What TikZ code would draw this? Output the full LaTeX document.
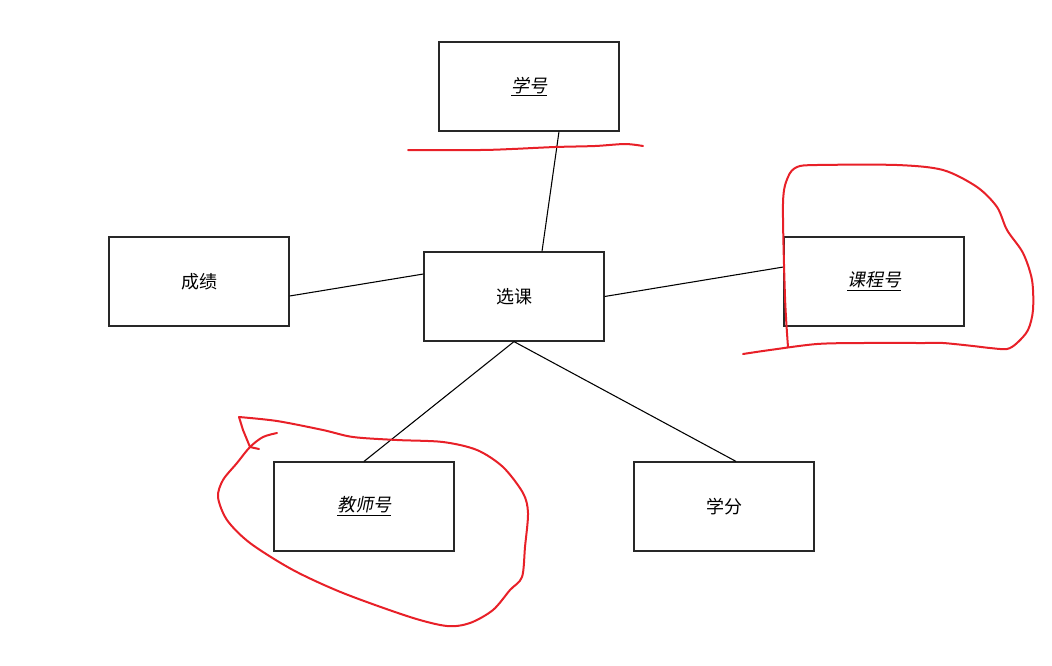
\documentclass[tikz,border=0pt]{standalone}
\usepackage{fontspec}
\setmainfont{Noto Sans CJK SC}
\newfontfamily\slantcjk[FakeSlant=0.2]{Noto Sans CJK SC}
\usetikzlibrary{calc}
\definecolor{penred}{RGB}{232,32,40}
\definecolor{boxline}{RGB}{40,40,40}
\begin{document}
\begin{tikzpicture}[x=0.75pt, y=-0.75pt, every node/.style={draw=boxline, line width=0.9pt, minimum width=135pt, minimum height=66.75pt, inner sep=0pt, font=\fontsize{13.5pt}{16pt}\selectfont}, link/.style={line width=0.8pt}, redpen/.style={draw=penred, line width=1.5pt, line cap=round, line join=round}]
\useasboundingbox (0,0) rectangle (1052,665);
\node (xh) at (529,86.5) {\underline{\slantcjk 学号}};
\node (cj) at (199,281.5) {成绩};
\node (xk) at (514,296.5) {选课};
\node (kch) at (874,281.5) {\underline{\slantcjk 课程号}};
\node (jsh) at (364,506.5) {\underline{\slantcjk 教师号}};
\node (xf) at (724,506.5) {学分};
\draw[link] ($(xh.south)+(30,0)$) -- ($(xk.north)+(28,0)$);
\draw[link] ($(cj.east)+(0,14.5)$) -- ($(xk.west)+(0,-22.5)$);
\draw[link] (xk.east) -- ($(kch.west)+(0,-14.5)$);
\draw[link] (xk.south) -- (jsh.north);
\draw[link] (xk.south) -- ($(xf.north)+(12,0)$);
% red pen marks
\draw[redpen] plot[smooth, tension=0.5] coordinates {(408,150) (480,150) (512,149) (555,147) (595,146) (625,144) (643,146)};
\draw[redpen] plot[smooth, tension=0.5] coordinates {(788,347) (785,297) (783,203) (788,177) (797,167) (817,165) (897,165) (943,170) (977,187) (997,207) (1007,230) (1023,253) (1032,280) (1033,310) (1028,330) (1017,343) (1007,349) (990,348) (973,346) (943,343) (923,343) (863,343) (817,344) (770,350) (743,354)};
\draw[redpen] plot[smooth, tension=0.5] coordinates {(277,433) (263,437) (250,447) (237,463) (223,480) (218,497) (227,520) (250,543) (293,570) (343,593) (410,617) (447,626) (470,623) (493,610) (510,590) (522,577) (525,547) (528,513) (523,493) (503,467) (477,450) (443,442) (397,440) (353,437) (323,430) (277,421) (239,417)};
\draw[redpen] (239,417) -- (243,430) -- (250,447) -- (259,449);
\end{tikzpicture}
\end{document}
